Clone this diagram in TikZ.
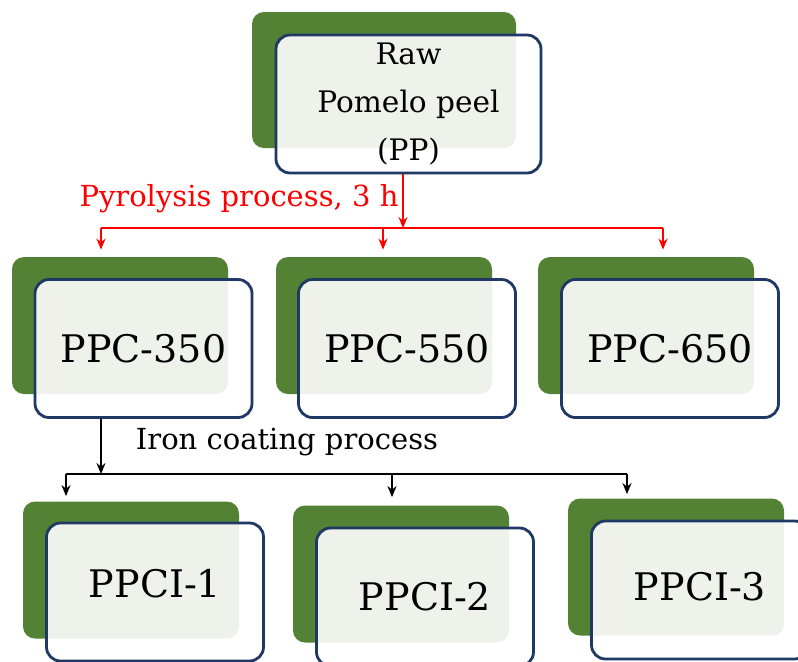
\documentclass[tikz,border=0pt]{standalone}
\usepackage{fontspec}
\setmainfont{DejaVu Serif}
\usetikzlibrary{calc}
\usetikzlibrary{arrows.meta}

\definecolor{leafgreen}{HTML}{548235}
\definecolor{frameblue}{HTML}{1F3864}

\begin{document}
\begin{tikzpicture}[x=0.5pt, y=-0.5pt]

    \tikzset{
        backbox/.style={fill=leafgreen, rounded corners=6pt, inner sep=0pt,
            minimum width=108pt, minimum height=68.5pt},
        frontbox/.style={draw=frameblue, line width=1.4pt, fill=white, fill opacity=0.9,
            text opacity=1, rounded corners=7pt, inner sep=0pt, align=center,
            minimum width=108.5pt, minimum height=69pt,
            font=\fontsize{19}{22}\selectfont},
        redflow/.style={draw=red, line width=1.3pt},
        blackflow/.style={draw=black, line width=1.2pt},
        tip/.style={-{Stealth[length=5.5pt, width=4.5pt]}},
        steplabel/.style={font=\fontsize{14.5}{17}\selectfont}
    }

    \useasboundingbox (0, 0) rectangle (798, 661);

    % raw material
    \node [backbox, minimum width=132pt, minimum height=68pt] (PPback) at (384, 80) {};
    \node [frontbox, minimum width=132.5pt, minimum height=69pt,
        font=\fontsize{14.8}{24}\selectfont] (PP) at (408.5, 104) {Raw\\Pomelo peel\\(PP)};

    % pyrolysis products
    \node [backbox] (B1back) at (120, 325.5) {};
    \node [frontbox] (B1) at (143.5, 348.5) {PPC-350};
        \node [backbox] (B2back) at (384, 325.5) {};
        \node [frontbox] (B2) at (407, 348.5) {PPC-550};
        \node [backbox] (B3back) at (646, 325.5) {};
        \node [frontbox] (B3) at (670, 348.5) {PPC-650};

    % iron coated products
    \node [backbox] (C1back) at (131, 570) {};
    \node [frontbox, text depth=9pt] (C1) at (155, 592) {PPCI-1};
        \node [backbox] (C2back) at (401, 574) {};
        \node [frontbox] (C2) at (425, 597) {PPCI-2};
        \node [backbox] (C3back) at (676, 567) {};
        \node [frontbox, text depth=4pt] (C3) at (700, 590) {PPCI-3};

    % pyrolysis step
    \coordinate (RB) at (403, 228);
    \coordinate (RL) at (101, 228);
    \coordinate (RM) at (383, 228);
    \coordinate (RR) at (663, 228);
    \draw [redflow, tip] (PP.south -| RB) -- (RB);
    \draw [redflow] (RL) -- (RR);
    \draw [redflow, tip, shorten >=3.5pt] (RL) -- (RL |- B1back.north);
    \draw [redflow, tip, shorten >=3.5pt] (RM) -- (RM |- B2back.north);
    \draw [redflow, tip, shorten >=3.5pt] (RR) -- (RR |- B3back.north);
    \node [steplabel, text=red] (pyro) at (239, 199) {Pyrolysis process, 3 h};

    % coating step
    \coordinate (KB) at (101, 474);
    \coordinate (KL) at (66, 474);
    \coordinate (KM) at (392, 474);
    \coordinate (KR) at (627, 474);
    \draw [blackflow, tip] (B1.south -| KB) -- (KB);
    \draw [blackflow] (KL) -- (KR);
    \draw [blackflow, tip, shorten >=2.5pt] (KL) -- (KL |- C1back.north);
    \draw [blackflow, tip, shorten >=4pt] (KM) -- (KM |- C2back.north);
    \draw [blackflow, tip, shorten >=2pt] (KR) -- (KR |- C3back.north);
    \node [steplabel] (coat) at (287, 442) {Iron coating process};

\end{tikzpicture}
\end{document}
